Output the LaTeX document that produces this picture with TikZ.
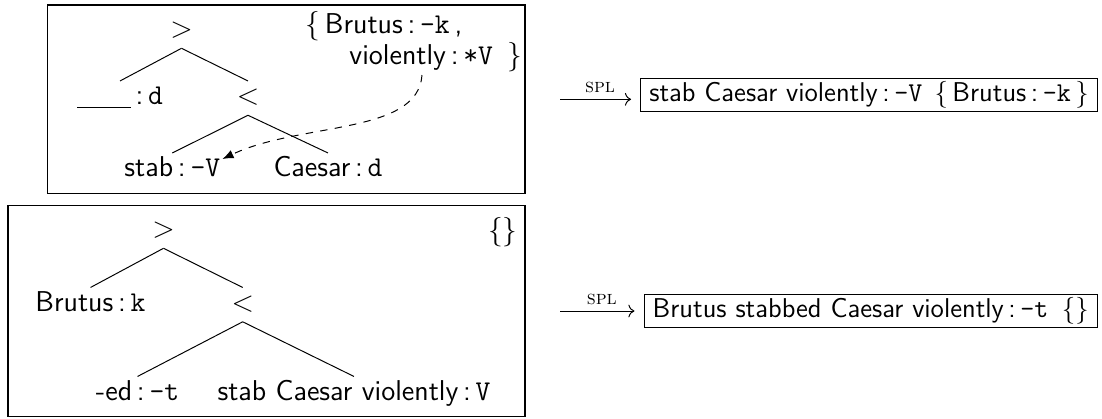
\documentclass[tikz,border=0pt]{standalone}
\usepackage{tikz}
\usetikzlibrary{calc,arrows.meta}
\renewcommand{\familydefault}{\sfdefault}
\newcommand{\lex}[2]{#1\,:\,\texttt{#2}}
\tikzset{
  tn/.style={anchor=base, inner sep=2.4pt, text height=7pt, text depth=1.8pt},
  frame/.style={line width=0.5pt},
  move/.style={dashed, -{Latex[length=4.5pt,width=3.6pt]}},
  spl/.style={->, shorten >=3.7pt},
  res/.style={draw, frame, anchor=east, inner xsep=3.5pt, inner ysep=1.2pt, font=\fontsize{11.1}{13}\selectfont},
  spllabel/.style={midway, above=2.5pt, inner sep=0, font=\rmfamily\footnotesize},
}
\begin{document}
\fontsize{11.7}{14}\selectfont
\begin{tikzpicture}[x=0.408pt,y=-0.408pt]
		\useasboundingbox (0,0) rectangle (1102,418);
		%%%%% TOP %%%%%
		\draw[frame] (47.5,5) rectangle (525,193.3);
		\node[tn] (gt1) at (181.5,37.5) {$>$};
		\node[tn] (gap1) at (120,104.5) {\lex{\rule[-1.4pt]{21.9pt}{0.4pt}}{d}};
		\node[tn] (lt1) at (248,104.5) {$<$};
		\node[tn] (stab1) at (172.3,176.5) {\lex{stab}{-V}};
		\node[tn] (caes1) at (328,176.5) {\lex{Caesar}{d}};
		\draw (gt1.south) -- (gap1.north);
		\draw (gt1.south) -- (lt1.north);
		\draw (lt1.south) -- (stab1.north);
		\draw (lt1.south) -- (caes1.north);
		
		\node[anchor=base west, inner sep=0] (set1a) at (305,33.3) {$\{$\,\lex{Brutus}{-k}\,,};
		\node[anchor=base west, inner sep=0] (set1b) at (349,64.3) {\lex{violently}{*V}\enspace$\}$};
		\coordinate (mv1) at (422,75);
		\draw[move] (mv1) .. controls +(-4,60) and +(78,-37) .. ([shift={(-4,6)}]stab1.north east);
		
		\coordinate (spl1) at (560,99.3);
		\node[res] (res1) at (1098,95) {\lex{stab Caesar violently}{-V}\hspace{0.45em}$\{$\,\lex{Brutus}{-k}\,$\}$};
		\draw[spl] (spl1) -- (res1.west |- spl1) node[spllabel] {\textsc{spl}};
		
		%%%%% BOTTOM %%%%%
		\draw[frame] (8,205.7) rectangle (525,416.7);
		\node[tn] (gt2) at (163.5,237.5) {$>$};
		\node[tn] (brut2) at (90.5,311) {\lex{Brutus}{k}};
		\node[tn] (lt2) at (242.7,311) {$<$};
		\node[tn] (ed2) at (137.5,400) {\lex{-ed}{-t}};
		\node[tn] (vp2) at (354,400) {\lex{stab Caesar violently}{V}};
		\draw (gt2.south) -- (brut2.north);
		\draw (gt2.south) -- (lt2.north);
		\draw (lt2.south) -- (ed2.north);
		\draw (lt2.south) -- (vp2.north);
		
		\node[inner sep=0] (none2) at (502.7,231.7) {$\{\}$};
		
		\coordinate (spl2) at (560,311);
		\node[res] (res2) at (1098,311) {\lex{Brutus stabbed Caesar violently}{-t}\enspace$\{\}$};
		\draw[spl] (spl2) -- (res2.west |- spl2) node[spllabel] {\textsc{spl}};
		%%%%% END %%%%%
\end{tikzpicture}
\end{document}
